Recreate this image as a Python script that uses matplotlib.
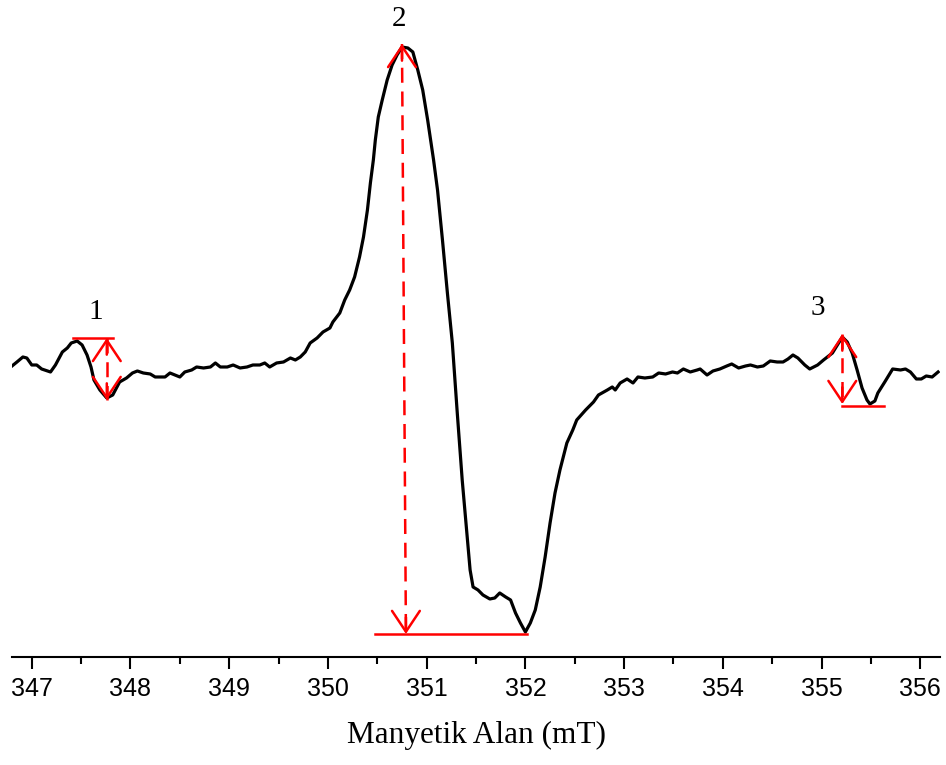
import matplotlib
matplotlib.use("Agg")
import matplotlib.pyplot as plt
import numpy as np
from matplotlib.ticker import MultipleLocator

# EPR spectrum (field in mT, signal in arbitrary units)
field = [
    346.80, 346.85, 346.91, 346.95, 347.00, 347.05, 347.10, 347.13, 347.19, 347.24,
    347.31, 347.36, 347.40, 347.46, 347.51, 347.56, 347.60, 347.63, 347.69, 347.76,
    347.82, 347.89, 347.96, 348.02, 348.07, 348.13, 348.20, 348.25, 348.30, 348.35,
    348.40, 348.45, 348.50, 348.55, 348.62, 348.67, 348.74, 348.81, 348.86, 348.91,
    348.98, 349.04, 349.11, 349.18, 349.24, 349.31, 349.36, 349.41, 349.48, 349.55,
    349.62, 349.67, 349.72, 349.77, 349.82, 349.89, 349.95, 350.02, 350.05, 350.12,
    350.17, 350.22, 350.27, 350.32, 350.36, 350.40, 350.43, 350.46, 350.48, 350.51,
    350.55, 350.60, 350.65, 350.70, 350.75, 350.81, 350.86, 350.91, 350.96, 351.01,
    351.07, 351.11, 351.16, 351.21, 351.26, 351.31, 351.36, 351.41, 351.44, 351.47,
    351.52, 351.57, 351.64, 351.69, 351.74, 351.80, 351.85, 351.90, 351.95, 352.00,
    352.05, 352.10, 352.15, 352.20, 352.25, 352.30, 352.35, 352.42, 352.48, 352.52,
    352.61, 352.69, 352.74, 352.83, 352.88, 352.91, 352.96, 353.03, 353.09, 353.14,
    353.21, 353.29, 353.35, 353.42, 353.49, 353.54, 353.60, 353.67, 353.74, 353.77,
    353.84, 353.90, 353.97, 354.04, 354.09, 354.16, 354.23, 354.28, 354.35, 354.41,
    354.48, 354.55, 354.61, 354.66, 354.71, 354.76, 354.83, 354.88, 354.96, 355.02,
    355.11, 355.16, 355.21, 355.26, 355.31, 355.36, 355.41, 355.46, 355.49, 355.54,
    355.57, 355.64, 355.72, 355.80, 355.85, 355.90, 355.96, 356.01, 356.06, 356.12,
    356.18,
]
signal = [
    1, 5, 10, 9, 2, 2, -2, -3, -5, 2,
    15, 19, 24, 26, 22, 12, 0, -13, -23, -31,
    -28, -15, -11, -6, -4, -6, -7, -10, -10, -10,
    -6, -8, -10, -5, -3, 0, -1, 0, 4, 0,
    0, 2, -1, 0, 2, 2, 4, 0, 4, 5,
    9, 7, 10, 15, 24, 29, 35, 39, 45, 54,
    67, 77, 90, 110, 130, 157, 184, 207, 227, 250,
    267, 287, 302, 312, 320, 319, 315, 297, 277, 247,
    207, 177, 127, 74, 24, -46, -113, -170, -203, -220,
    -223, -228, -232, -231, -226, -230, -233, -246, -256, -265,
    -256, -243, -220, -190, -156, -126, -103, -76, -63, -53,
    -43, -35, -28, -23, -20, -23, -16, -12, -16, -10,
    -11, -10, -6, -7, -5, -6, -2, -5, -3, -2,
    -8, -4, -2, 1, 3, -1, 1, 2, 0, 1,
    6, 5, 5, 8, 12, 9, 2, -2, 2, 7,
    14, 22, 30, 25, 14, -3, -21, -33, -37, -34,
    -26, -15, -2, -3, -2, -5, -12, -12, -9, -10,
    -5,
]

peak_labels = ["1", "2", "3"]
peak_windows = [(347.2, 348.0), (350.0, 352.5), (354.9, 355.7)]

field = np.array(field)
signal = np.array(signal)

red = "#ff0000"
serif = "Liberation Serif"


def dashed_double_arrow(ax, x0, y0, x1, y1):
    # dashed shaft, solid open heads at both ends
    ax.plot([x0, x1], [y0, y1], color=red, lw=1.8, dashes=(6, 3.5), zorder=4)
    head = dict(arrowstyle="->,head_length=0.75,head_width=0.5", color=red,
                lw=1.8, shrinkA=0, shrinkB=0, mutation_scale=20)
    sign = 1 if y1 > y0 else -1
    ax.annotate("", xy=(x0, y0), xytext=(0, 12 * sign), textcoords="offset points",
                arrowprops=head, zorder=4)
    ax.annotate("", xy=(x1, y1), xytext=(0, -12 * sign), textcoords="offset points",
                arrowprops=head, zorder=4)


fig = plt.figure(figsize=(9.46, 7.65), dpi=100)
ax = fig.add_axes([0.0127, 0.1412, 0.981, 0.8588])

ax.plot(field, signal, color="black", lw=2.3, zorder=3)

peaks = []
for lo, hi in peak_windows:
    m = (field >= lo) & (field <= hi)
    f, s = field[m], signal[m]
    peaks.append((f[np.argmax(s)], s.max() + 3, f[np.argmin(s)], s.min() - 2))

# peak 1: level line at the maximum, arrow at the minimum
xmax, ymax, xmin, ymin = peaks[0]
ax.plot([xmax - 0.04, xmin + 0.06], [ymax, ymax], color=red, lw=1.8, zorder=4)
dashed_double_arrow(ax, xmin, ymax, xmin, ymin)
ax.text(xmax + 0.19, ymax + 26, peak_labels[0], family=serif, fontsize=21,
        ha="center", va="center")

# peak 2: arrow down from the maximum, level line at the minimum
xmax, ymax, xmin, ymin = peaks[1]
ax.plot([xmax - 0.27, xmin + 0.02], [ymin, ymin], color=red, lw=1.8, zorder=4)
dashed_double_arrow(ax, xmax, ymax, xmax + 0.04, ymin)
ax.text(xmax - 0.03, ymax + 25, peak_labels[1], family=serif, fontsize=21,
        ha="center", va="center")

# peak 3: arrow down from the maximum, level line at the minimum
xmax, ymax, xmin, ymin = peaks[2]
ax.plot([xmax, xmin + 0.14], [ymin, ymin], color=red, lw=1.8, zorder=4)
dashed_double_arrow(ax, xmax, ymax, xmax, ymin + 2)
ax.text(xmax - 0.25, ymax + 26, peak_labels[2], family=serif, fontsize=21,
        ha="center", va="center")

ax.set_xlim(346.8, 356.2)
ax.set_ylim(-290, 367)
for side in ["left", "top", "right"]:
    ax.spines[side].set_visible(False)
ax.spines["bottom"].set_linewidth(1.5)
ax.set_yticks([])
ax.xaxis.set_major_locator(MultipleLocator(1))
ax.xaxis.set_minor_locator(MultipleLocator(0.5))
ax.tick_params(axis="x", which="major", direction="out", length=8.5, width=1.5,
               labelsize=18, pad=6)
ax.tick_params(axis="x", which="minor", direction="out", length=5, width=1.5)
for lbl in ax.get_xticklabels():
    lbl.set_family("Liberation Sans")
ax.set_xlabel("Manyetik Alan (mT)", family=serif, fontsize=22.5, labelpad=14)

fig.savefig("out.png", dpi=100)
plt.close(fig)
